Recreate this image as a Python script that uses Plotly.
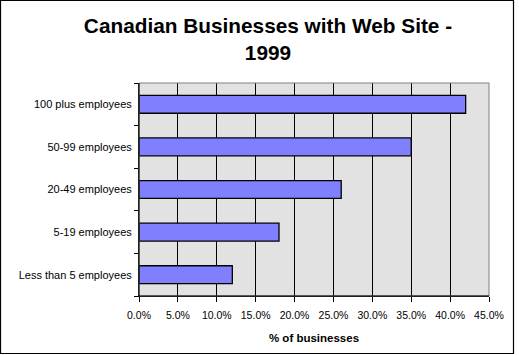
import plotly.graph_objects as go

categories = ["Less than 5 employees", "5-19 employees", "20-49 employees",
              "50-99 employees", "100 plus employees"]
values = [12, 18, 26, 35, 42]
x_ticks = [0, 5, 10, 15, 20, 25, 30, 35, 40, 45]

W, H = 519, 355
L, R, T, B = 139, 30, 83, 59
pw, ph = W - L - R, H - T - B

fig = go.Figure(go.Bar(
    y=categories, x=values, orientation="h",
    marker=dict(color="#8080FF", line=dict(color="black", width=1.3)),
    width=0.42,
))

fig.update_layout(
    width=W, height=H,
    margin=dict(l=L, r=R, t=T, b=B),
    paper_bgcolor="white", plot_bgcolor="#E2E2E2",
    font=dict(family="Liberation Sans, Arial", color="black", size=10),
    title=dict(text="<b>Canadian Businesses with Web Site -<br>1999</b>",
               x=268 / W, xanchor="center", yref="container",
               y=1 - 33 / H, yanchor="middle",
               font=dict(size=20.8, family="Liberation Sans, Arial")),
    showlegend=False,
    bargap=0.58,
)
fig.update_xaxes(
    range=[0, 45], tickvals=x_ticks,
    ticktext=[f"{v:.1f}%" for v in x_ticks],
    showgrid=True, gridcolor="black", gridwidth=1,
    ticks="outside", ticklen=5, tickcolor="black",
    showline=True, linecolor="black", linewidth=1,
    zeroline=False, ticklabelstandoff=4,
    title=dict(text="<b>% of businesses</b>", font=dict(size=11.5), standoff=14),
    tickfont=dict(size=10.5),
)
fig.update_yaxes(
    showgrid=False, ticks="outside", ticklen=4, tickcolor="black",
    tickson="boundaries",
    showline=True, linecolor="black", linewidth=1,
    tickfont=dict(size=11), ticklabelstandoff=4,
)
# plot-area gray border (top/right)
fig.add_shape(type="rect", xref="paper", yref="paper", x0=0, x1=1, y0=0, y1=1,
              line=dict(color="#808080", width=1), layer="above")
fig.add_shape(type="line", xref="paper", yref="paper", x0=0, x1=0, y0=0, y1=1,
              line=dict(color="black", width=1), layer="above")
fig.add_shape(type="line", xref="paper", yref="paper", x0=0, x1=1, y0=0, y1=0,
              line=dict(color="black", width=1), layer="above")
# outer chart border
fig.add_shape(type="rect", xref="paper", yref="paper",
              x0=(0.5 - L) / pw, x1=(513.5 - L) / pw,
              y0=-(353.5 - T - ph) / ph, y1=1 + (T - 0.5) / ph,
              line=dict(color="black", width=1.2))

fig.write_html("out.html")
